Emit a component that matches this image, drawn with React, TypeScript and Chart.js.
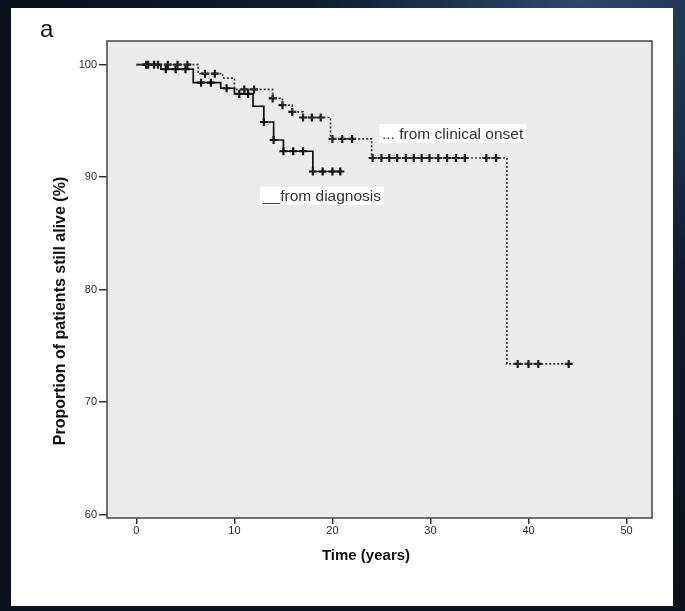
import React, { useEffect, useRef } from "react";
import { Chart, registerables } from "chart.js";

Chart.register(...registerables);

// ---- data ----
const xTicks = [0, 10, 20, 30, 40, 50];
const yTicks = [60, 70, 80, 90, 100];

// From diagnosis (solid) – step times and survival after each time
const diagTimes = [0, 2.5, 5.8, 8.6, 10.0, 11.9, 13.0, 14.0, 15.0, 18.0, 20.8];
const diagSurv = [100, 99.6, 98.4, 97.9, 97.4, 96.3, 94.9, 93.3, 92.3, 90.5, 90.5];
const diagCensor = [1.0, 1.8, 3.0, 4.0, 5.0, 6.6, 7.6, 9.2, 10.5, 11.4, 13.0, 14.0, 15.0, 16.0, 17.0, 18.0, 19.0, 20.0, 20.8];

// From clinical onset (dotted)
const onsetTimes = [0, 6.3, 8.8, 10.0, 13.9, 14.9, 15.9, 17.0, 19.8, 24.0, 37.8, 44.2];
const onsetSurv = [100, 99.2, 98.8, 97.8, 97.0, 96.4, 95.8, 95.3, 93.4, 91.7, 73.4, 73.4];
const onsetCensor = [1.2, 2.2, 3.2, 4.2, 5.2, 7.0, 8.0, 11.0, 12.0, 13.9, 14.9, 15.9, 17.0, 17.9, 18.8, 20.0, 21.0, 22.0, 24.1, 25.0, 25.8, 26.6, 27.5, 28.3, 29.1, 29.9, 30.8, 31.7, 32.6, 33.5, 35.7, 36.7, 38.9, 40.0, 41.0, 44.1];

const labelOnset = "... from clinical onset";
const labelDiag = "__from diagnosis";
const xTitle = "Time (years)";
const yTitle = "Proportion of patients still alive (%)";
const panelLetter = "a";

function survAt(times: number[], surv: number[], t: number) {
  let v = surv[0];
  for (let i = 0; i < times.length; i++) if (times[i] <= t + 1e-9) v = surv[i];
  return v;
}

const FONT = "'Liberation Sans', Arial, sans-serif";

const decor = {
  id: "decor",
  beforeDatasetsDraw(chart: any) {
    const { ctx, chartArea: a } = chart;
    ctx.save();
    ctx.fillStyle = "#ebebeb";
    ctx.fillRect(a.left, a.top, a.right - a.left, a.bottom - a.top);
    ctx.restore();
  },
  afterDatasetsDraw(chart: any) {
    const { ctx, chartArea: a } = chart;
    ctx.save();
    ctx.strokeStyle = "#444";
    ctx.lineWidth = 1.5;
    ctx.strokeRect(a.left, a.top, a.right - a.left, a.bottom - a.top);

    // annotation labels
    ctx.font = `15.5px ${FONT}`;
    ctx.textBaseline = "alphabetic";
    ctx.textAlign = "left";
    const box = (text: string, x: number, yTop: number, h: number, base: number) => {
      const w = ctx.measureText(text).width;
      ctx.fillStyle = "#ffffff";
      ctx.fillRect(x - 3, yTop, w + 6, h);
      ctx.fillStyle = "#333";
      ctx.fillText(text, x, base);
    };
    box(labelOnset, 382, 124, 19, 139);
    box(labelDiag, 263, 187, 18, 201);

    // axis titles
    ctx.fillStyle = "#111";
    ctx.font = `bold 15px ${FONT}`;
    ctx.textAlign = "center";
    ctx.textBaseline = "middle";
    ctx.fillText(xTitle, 366, 556);
    ctx.font = `bold 16px ${FONT}`;
    ctx.save();
    ctx.translate(61, 311);
    ctx.rotate(-Math.PI / 2);
    ctx.fillText(yTitle, 0, 0);
    ctx.restore();

    // panel letter
    ctx.font = `24px ${FONT}`;
    ctx.textAlign = "left";
    ctx.textBaseline = "alphabetic";
    ctx.fillStyle = "#111";
    ctx.fillText(panelLetter, 40, 37);
    ctx.restore();
  },
};

export default function App() {
  const ref = useRef<HTMLCanvasElement | null>(null);
  useEffect(() => {
    if (!ref.current) return;
    const chart = new Chart(ref.current, {
      type: "scatter",
      data: {
        datasets: [
          {
            label: "onset",
            data: onsetTimes.map((t, i) => ({ x: t, y: onsetSurv[i] })),
            showLine: true,
            stepped: "before",
            borderColor: "#3a3a3a",
            borderWidth: 1.7,
            borderDash: [2, 2],
            pointRadius: 0,
          },
          {
            label: "diag",
            data: diagTimes.map((t, i) => ({ x: t, y: diagSurv[i] })),
            showLine: true,
            stepped: "before",
            borderColor: "#111",
            borderWidth: 1.7,
            pointRadius: 0,
          },
          {
            label: "onset censored",
            data: onsetCensor.map((t) => ({ x: t, y: survAt(onsetTimes, onsetSurv, t) })),
            showLine: false,
            pointStyle: "cross",
            pointRadius: 4,
            pointBorderWidth: 2.2,
            borderColor: "#1a1a1a",
            backgroundColor: "#1a1a1a",
          },
          {
            label: "diag censored",
            data: diagCensor.map((t) => ({ x: t, y: survAt(diagTimes, diagSurv, t) })),
            showLine: false,
            pointStyle: "cross",
            pointRadius: 4,
            pointBorderWidth: 2.2,
            borderColor: "#111",
            backgroundColor: "#111",
          },
        ],
      },
      options: {
        animation: false,
        responsive: false,
        maintainAspectRatio: false,
        layout: { padding: { left: 0, top: 41, right: 33, bottom: 0 } },
        plugins: { legend: { display: false }, tooltip: { enabled: false } },
        scales: {
          x: {
            type: "linear",
            min: -3,
            max: 52.6,
            afterFit: (s: any) => { s.height = 93; },
            afterBuildTicks: (s: any) => { s.ticks = xTicks.map((v) => ({ value: v })); },
            grid: { drawOnChartArea: false, drawTicks: true, tickLength: 6, color: "#333", lineWidth: 1.5 },
            border: { display: false },
            ticks: { color: "#2a2a2a", padding: 0, font: { family: FONT, size: 11 }, maxRotation: 0 },
          },
          y: {
            type: "linear",
            min: 59.7,
            max: 102.1,
            afterFit: (s: any) => { s.width = 107; },
            afterBuildTicks: (s: any) => { s.ticks = yTicks.map((v) => ({ value: v })); },
            grid: { drawOnChartArea: false, drawTicks: true, tickLength: 8, color: "#333", lineWidth: 1.5 },
            border: { display: false },
            ticks: { color: "#2a2a2a", padding: 2, font: { family: FONT, size: 11 } },
          },
        },
      },
      plugins: [decor],
    });
    return () => chart.destroy();
  }, []);

  return (
    <div
      style={{
        position: "fixed",
        left: 0,
        top: 0,
        width: 685,
        height: 611,
        background: "radial-gradient(ellipse at 85% 0%, #2d4868 0%, #0f1a2b 35%, #0b111c 70%)",
        overflow: "hidden",
      }}
    >
      <div style={{ position: "absolute", left: 11, top: 8, width: 662, height: 598, background: "#fff" }} />
      <canvas ref={ref} width={685} height={611} style={{ position: "absolute", left: 0, top: 0 }} />
    </div>
  );
}
